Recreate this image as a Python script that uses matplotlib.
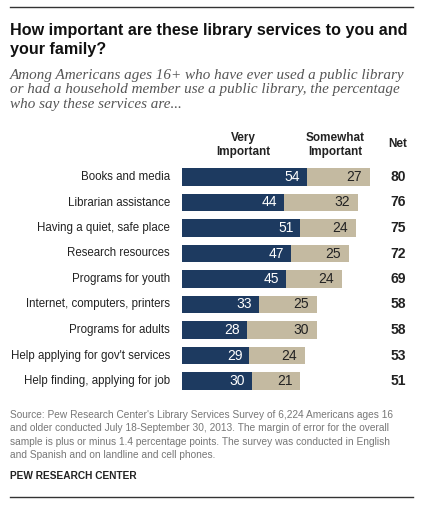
import matplotlib.pyplot as plt
from matplotlib.lines import Line2D
from matplotlib import font_manager

plt.rcParams['font.family'] = ['Liberation Sans', 'DejaVu Sans']

services = ['Books and media', 'Librarian assistance', 'Having a quiet, safe place',
            'Research resources', 'Programs for youth', 'Internet, computers, printers',
            'Programs for adults', "Help applying for gov't services",
            'Help finding, applying for job']
very = [54, 44, 51, 47, 45, 33, 28, 29, 30]
somewhat = [27, 32, 24, 25, 24, 25, 30, 24, 21]
net = [80, 76, 75, 72, 69, 58, 58, 53, 51]

W, H = 421, 507
DARK = '#1d3a60'
TAN = '#c4baa1'

# narrow face for the row labels if it is there
names = {f.name for f in font_manager.fontManager.ttflist}
if 'Liberation Sans Narrow' in names:
    label_font, label_size = 'Liberation Sans Narrow', 10
else:
    label_font, label_size = 'Liberation Sans', 8.3

fig = plt.figure(figsize=(W / 100, H / 100), dpi=100)


def fx(x):
    return x / W


def fy(y):
    return 1 - y / H


# bars area: left edge at 182px, 2.32 px per point, rows 25.5px apart starting at 177px
n = len(services)
top = 177 - 25.5 / 2
ax = fig.add_axes([fx(182), fy(top + 25.5 * n), 232 / W, 25.5 * n / H])
ax.set_xlim(0, 100)
ax.set_ylim(n - 0.5, -0.5)
ax.axis('off')

ys = list(range(n))
ax.barh(ys, very, height=0.69, color=DARK)
ax.barh(ys, somewhat, left=very, height=0.69, color=TAN)

for i in range(n):
    ax.annotate(str(very[i]), (very[i], i), xytext=(-7, 0), textcoords='offset pixels',
                ha='right', va='center', color='white', fontsize=10)
    ax.annotate(str(somewhat[i]), (very[i] + somewhat[i], i), xytext=(-8, 0),
                textcoords='offset pixels', ha='right', va='center', color='#222222', fontsize=10)
    ax.annotate(services[i], (0, i), xytext=(-12, 0), textcoords='offset pixels',
                ha='right', va='center', color='#222222', fontsize=label_size,
                family=label_font)
    fig.text(fx(398), fy(177 + 25.5 * i), str(net[i]), ha='center', va='center',
             fontsize=10, fontweight='bold', color='#222222')

# column headers
fig.text(fx(243), fy(145), 'Very\nImportant', ha='center', va='center', fontsize=8.5,
         fontweight='bold', linespacing=1.15, color='#222222')
fig.text(fx(335), fy(145), 'Somewhat\nImportant', ha='center', va='center', fontsize=8.5,
         fontweight='bold', linespacing=1.15, color='#222222')
fig.text(fx(398), fy(144), 'Net', ha='center', va='center', fontsize=8.5,
         fontweight='bold', color='#222222')

# title and subtitle
fig.text(fx(10), fy(40), 'How important are these library services to you and\nyour family?',
         ha='left', va='center', fontsize=11.6, fontweight='bold', linespacing=1.4,
         color='#111111')
fig.text(fx(10), fy(90), 'Among Americans ages 16+ who have ever used a public library\n'
         'or had a household member use a public library, the percentage\n'
         'who say these services are...',
         ha='left', va='center', fontsize=10.9, style='italic', family='Liberation Serif',
         linespacing=1.13, color='#555555')

# source and credit
fig.text(fx(10), fy(435), "Source: Pew Research Center's Library Services Survey of 6,224 Americans ages 16\n"
         'and older conducted July 18-September 30, 2013. The margin of error for the overall\n'
         'sample is plus or minus 1.4 percentage points. The survey was conducted in English\n'
         'and Spanish and on landline and cell phones.',
         ha='left', va='center', fontsize=7.3, linespacing=1.45, color='#777777')
fig.text(fx(10), fy(476), 'PEW RESEARCH CENTER', ha='left', va='center', fontsize=7.3,
         fontweight='bold', color='#222222')

# rules at top and bottom
for yy in (7, 497):
    fig.add_artist(Line2D([fx(10), fx(413)], [fy(yy), fy(yy)], color='#333333', lw=1))

fig.savefig('out.png', dpi=100, facecolor='white')
